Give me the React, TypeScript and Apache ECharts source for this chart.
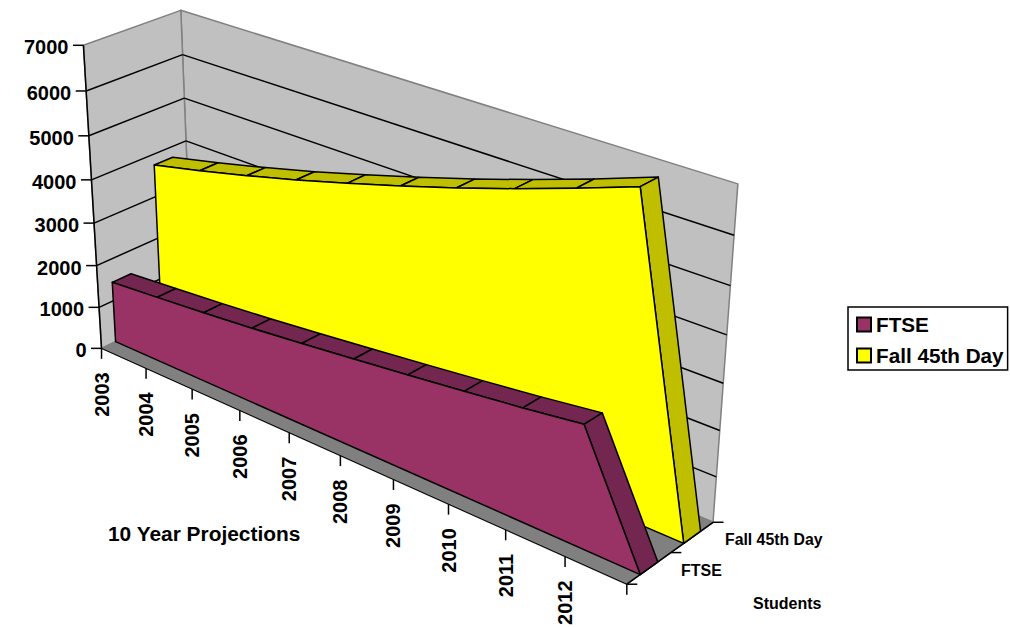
import React, { useEffect, useRef } from "react";
import * as echarts from "echarts";

const CATEGORIES = ["2003","2004","2005","2006","2007","2008","2009","2010","2011","2012",""];
const FTSE = [1446,1540,1640,1750,1880,2015,2155,2300,2455,2630,0];
const FALL = [3747,4009,4292,4595,4924,5269,5630,6021,6433,6869,0];
const Y_MAX = 7000;
const Y_STEP = 1000;
const FONT = '"Liberation Sans", Arial, sans-serif';

// Camera of the 3D box: maps (x, depth, height), each 0..1, to the page.
const CAM = [421.22,98.10,-23.15,101.52, 138.84,-32.46,-305.82,348.37, -0.16604,0.03675,-0.06070];
const proj = (x:number,d:number,h:number)=>{
  const w=CAM[8]*x+CAM[9]*d+CAM[10]*h+1;
  return [(CAM[0]*x+CAM[1]*d+CAM[2]*h+CAM[3])/w,(CAM[4]*x+CAM[5]*d+CAM[6]*h+CAM[7])/w];
};

const poly=(pts:number[][],fill:string,stroke:string|null,lw=1.5)=>({type:"polygon",shape:{points:pts},style:{fill,stroke:stroke||undefined,lineWidth:lw,lineJoin:"round"}});
const line=(a:number[],b:number[],stroke="#000",lw=1.5)=>({type:"line",shape:{x1:a[0],y1:a[1],x2:b[0],y2:b[1]},style:{stroke,lineWidth:lw}});
const label=(text:string,x:number,y:number,size:number,align="left",rotation=0)=>({type:"text",x,y,rotation,style:{text,fontFamily:FONT,fontWeight:"bold",fontSize:size,fill:"#000",align,verticalAlign:"middle"}});

const GRID_W=1000, GRID_H=600;
const DEPTH_FTSE=[.15,.35], DEPTH_FALL=[.65,.85];
const norm=(api:any,i:number,v:number)=>{const c=api.coord([i,v]);return [c[0]/GRID_W,1-c[1]/GRID_H];};

function renderScene(_:any,api:any){
  const ch:any[]=[];
  const O=proj(0,0,0),A=proj(1,0,0),B=proj(0,1,0),AB=proj(1,1,0);
  const top=norm(api,0,Y_MAX)[1];
  const C=proj(0,0,top),BC=proj(0,1,top),ABC=proj(1,1,top);
  ch.push(poly([B,AB,ABC,BC],"#C0C0C0","#808080"));
  ch.push(poly([O,B,BC,C],"#C0C0C0","#808080"));
  ch.push(poly([O,A,AB,B],"#808080","#808080"));
  for(let k=0;k<=Y_MAX;k+=Y_STEP){
    const h=norm(api,0,k)[1];
    const a=proj(0,0,h),b=proj(0,1,h),c=proj(1,1,h);
    if(k>0&&k<Y_MAX){ch.push(line(a,b));ch.push(line(b,c));}
    ch.push(line([a[0]-10.5,a[1]],a));
    ch.push(label(String(k),a[0]-15,a[1]+2,20,"right"));
  }
  ch.push(line(O,C));ch.push(line(O,A,"#000",1));ch.push(line(A,AB));
  CATEGORIES.forEach((cat,i)=>{
    const p=proj(norm(api,i,0)[0],0,0);
    ch.push(line(p,[p[0],p[1]+10.5]));
    if(cat) ch.push(label(cat,p[0],p[1]+24,20,"right",Math.PI/2));
  });
  [0,.5,1].forEach(d=>{const p=proj(1,d,0);ch.push(line(p,[p[0]+10.5,p[1]]));});
  ch.push(label("FTSE",681,570,16));
  ch.push(label("Fall 45th Day",725,539,15.8));
  ch.push(label("Students",753,603,16));
  ch.push(label("10 Year Projections",108,533,20.9));
  return {type:"group",children:ch};
}
const slab=(values:number[],d:number[],front:string,side:string)=>(params:any,api:any)=>{
  if(params.dataIndex!==0) return null;
  const ch:any[]=[];
  const pts=values.map((v,i)=>norm(api,i,v));
  for(let i=0;i<pts.length-1;i++){
    const a=pts[i],b=pts[i+1];
    ch.push(poly([proj(a[0],d[0],a[1]),proj(b[0],d[0],b[1]),proj(b[0],d[1],b[1]),proj(a[0],d[1],a[1])],side,"#000"));
  }
  const f=pts.map(p=>proj(p[0],d[0],p[1]));
  f.push(proj(0,d[0],0));
  ch.push(poly(f,front,"#000"));
  return {type:"group",children:ch};
};

export default function App(){
  const ref=useRef<HTMLDivElement>(null);
  useEffect(()=>{
    document.body.style.margin="0";
    const chart=echarts.init(ref.current!,undefined,{renderer:"svg"});
    chart.setOption({
      animation:false,
      grid:{left:0,top:0,width:GRID_W,height:GRID_H,show:false},
      xAxis:{type:"category",data:CATEGORIES,boundaryGap:false,show:false},
      yAxis:{type:"value",min:0,max:Y_MAX,interval:Y_STEP,show:false},
      legend:{show:true,orient:"vertical",left:848,top:307,padding:[7,4,4,8],itemGap:10,itemWidth:14,itemHeight:14,borderColor:"#000",borderWidth:1.5,
        textStyle:{fontFamily:FONT,fontWeight:"bold",fontSize:20.7,color:"#000"},
        data:[{name:"FTSE",icon:"rect"},{name:"Fall 45th Day",icon:"rect"}]},
      series:[
        {type:"custom",name:"scene",silent:true,renderItem:renderScene,data:[[0,0]],clip:false},
        {type:"custom",name:"Fall 45th Day",renderItem:slab(FALL,DEPTH_FALL,"#FFFF00","#BFBF00"),data:FALL.map((v,i)=>[i,v]),itemStyle:{color:"#FFFF00",borderColor:"#000",borderWidth:1.5}},
        {type:"custom",name:"FTSE",renderItem:slab(FTSE,DEPTH_FTSE,"#993366","#732650"),data:FTSE.map((v,i)=>[i,v]),itemStyle:{color:"#993366",borderColor:"#000",borderWidth:1.5}},
      ],
    });
    return ()=>chart.dispose();
  },[]);
  return <div ref={ref} style={{width:1010,height:627}}/>;
}
